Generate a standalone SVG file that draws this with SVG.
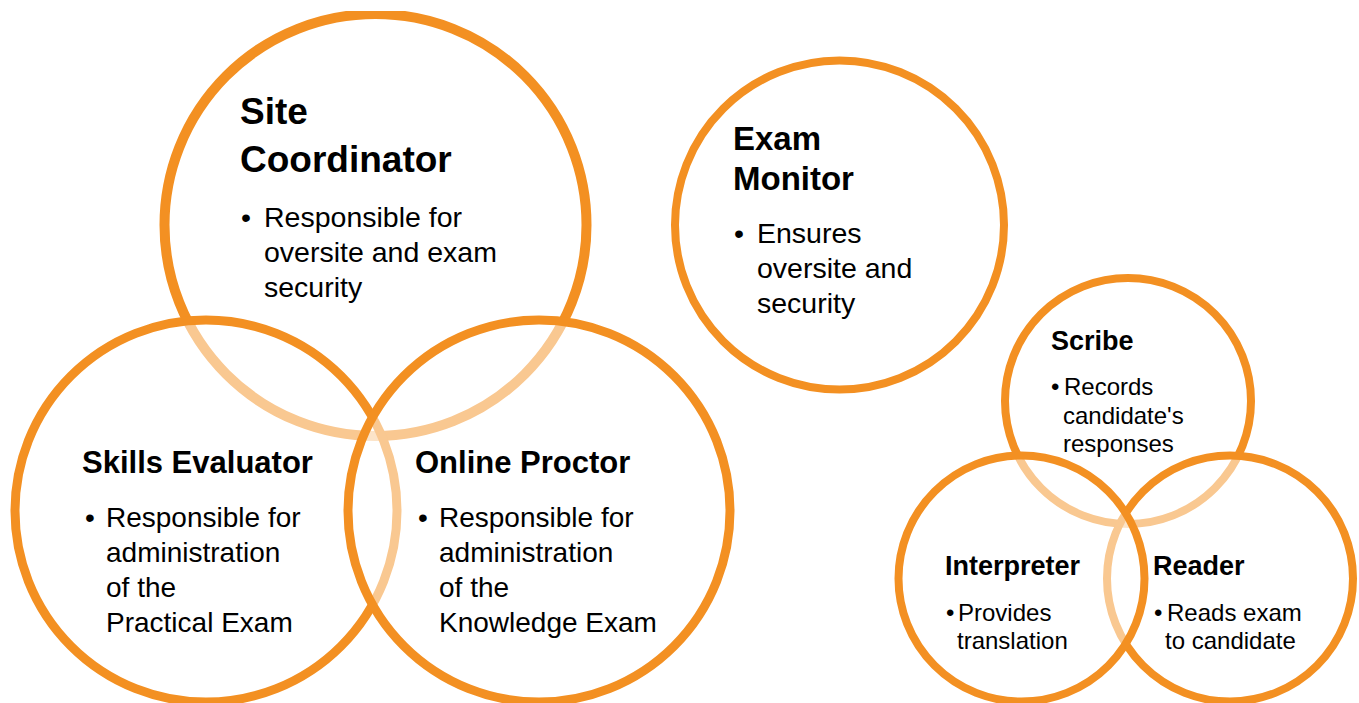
<svg xmlns="http://www.w3.org/2000/svg" width="1359" height="703" viewBox="0 0 1359 703">
  <style>
    .ring { fill: #ffffff; fill-opacity: 0.5; stroke: #F39022; }
    .big { stroke-width: 10; }
    .mid { stroke-width: 9; }
    .sm { stroke-width: 8; }
    text { font-family: "Liberation Sans", Arial, sans-serif; fill: #000000; }
    .t1 { font-size: 37px; font-weight: bold; }
    .t2 { font-size: 31px; font-weight: bold; }
    .t3 { font-size: 33px; font-weight: bold; }
    .t4 { font-size: 27px; font-weight: bold; }
    .b1 { font-size: 28.5px; }
    .b2 { font-size: 28px; }
    .b4 { font-size: 24px; }
  </style>
  <defs>
    <clipPath id="pageTop">
      <rect x="0" y="11" width="1359" height="692"/>
    </clipPath>
  </defs>
  <rect x="0" y="0" width="1359" height="703" fill="#ffffff"/>

  <!-- connectors: none, the roles are shown as overlapping rings -->
  <g id="connectors"></g>

  <!-- left cluster -->
  <g id="site-coordinator">
    <circle class="ring big" cx="375.5" cy="225" r="211" clip-path="url(#pageTop)"/>
    <text class="t1" x="240" y="124">Site</text>
    <text class="t1" x="240" y="172">Coordinator</text>
    <text class="b1" x="241" y="227">•</text>
    <text class="b1" x="264" y="227">Responsible for</text>
    <text class="b1" x="264" y="262">oversite and exam</text>
    <text class="b1" x="264" y="297">security</text>
  </g>

  <g id="skills-evaluator">
    <circle class="ring mid" cx="206" cy="511" r="191"/>
    <text class="t2" x="82" y="473">Skills Evaluator</text>
    <text class="b2" x="85" y="527">•</text>
    <text class="b2" x="106" y="527">Responsible for</text>
    <text class="b2" x="106" y="562">administration</text>
    <text class="b2" x="106" y="597">of the</text>
    <text class="b2" x="106" y="632">Practical Exam</text>
  </g>

  <g id="online-proctor">
    <circle class="ring mid" cx="539" cy="511" r="191"/>
    <text class="t2" x="415" y="473">Online Proctor</text>
    <text class="b2" x="418" y="527">•</text>
    <text class="b2" x="439" y="527">Responsible for</text>
    <text class="b2" x="439" y="562">administration</text>
    <text class="b2" x="439" y="597">of the</text>
    <text class="b2" x="439" y="632">Knowledge Exam</text>
  </g>

  <!-- standalone ring -->
  <g id="exam-monitor">
    <circle class="ring sm" cx="839.5" cy="225" r="164.5"/>
    <text class="t3" x="733" y="150">Exam</text>
    <text class="t3" x="733" y="190">Monitor</text>
    <text class="b1" x="734" y="243">•</text>
    <text class="b1" x="757" y="243">Ensures</text>
    <text class="b1" x="757" y="278">oversite and</text>
    <text class="b1" x="757" y="313">security</text>
  </g>

  <!-- right cluster -->
  <g id="scribe">
    <circle class="ring sm" cx="1128" cy="401" r="123"/>
    <text class="t4" x="1051" y="350">Scribe</text>
    <text class="b4" x="1051" y="395">•</text>
    <text class="b4" x="1064" y="395">Records</text>
    <text class="b4" x="1063" y="424">candidate's</text>
    <text class="b4" x="1063" y="452">responses</text>
  </g>

  <g id="reader">
    <circle class="ring sm" cx="1230" cy="578.5" r="123"/>
    <text class="t4" x="1153" y="575">Reader</text>
    <text class="b4" x="1154" y="621">•</text>
    <text class="b4" x="1167" y="621">Reads exam</text>
    <text class="b4" x="1165" y="649">to candidate</text>
  </g>

  <g id="interpreter">
    <circle class="ring sm" cx="1021.5" cy="578.5" r="123"/>
    <text class="t4" x="945" y="575">Interpreter</text>
    <text class="b4" x="946" y="621">•</text>
    <text class="b4" x="958" y="621">Provides</text>
    <text class="b4" x="957" y="649">translation</text>
  </g>
</svg>
